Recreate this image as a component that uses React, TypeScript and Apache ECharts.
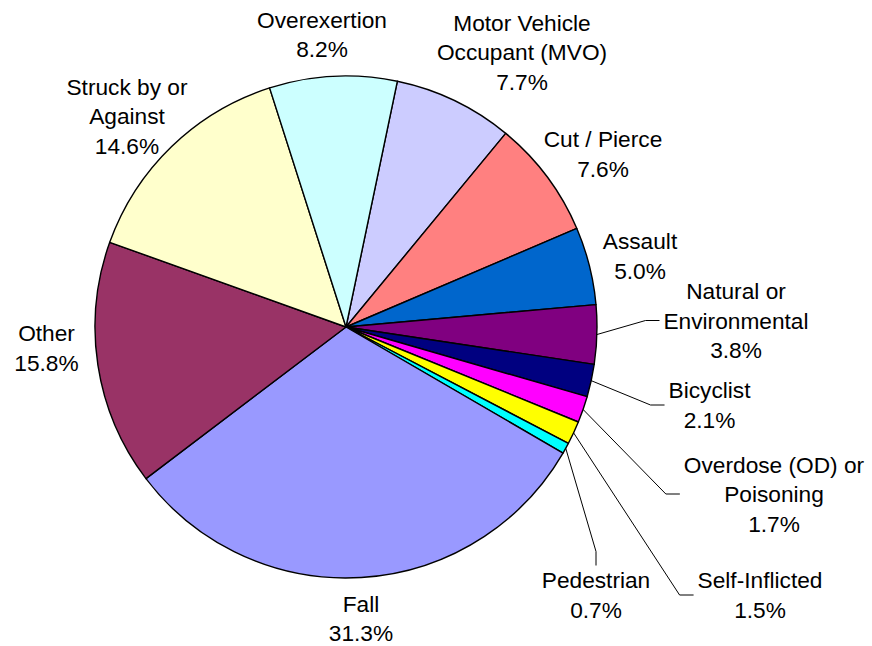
import React, { useEffect, useRef } from 'react';
import * as echarts from 'echarts';

// Injury categories, clockwise starting at the Motor Vehicle Occupant slice
const categories: string[] = [
  'Motor Vehicle\nOccupant (MVO)',
  'Cut / Pierce',
  'Assault',
  'Natural or\nEnvironmental',
  'Bicyclist',
  'Overdose (OD) or\nPoisoning',
  'Self-Inflicted',
  'Pedestrian',
  'Fall',
  'Other',
  'Struck by or\nAgainst',
  'Overexertion',
];

// Share of injuries (%)
const percents: number[] = [7.7, 7.6, 5.0, 3.8, 2.1, 1.7, 1.5, 0.7, 31.3, 15.8, 14.6, 8.2];

// Styles (kept apart from data)
const sliceColors: string[] = [
  '#CCCCFF', '#FF8080', '#0066CC', '#800080', '#000080', '#FF00FF',
  '#FFFF00', '#00FFFF', '#9999FF', '#993366', '#FFFFCC', '#CCFFFF',
];
const showLeader: boolean[] = [false, false, false, true, true, true, true, true, false, false, false, false];
// label block centres (px)
const labelCentres: [number, number][] = [
  [522, 52], [603, 154], [640, 256], [736, 320.5], [709.5, 405], [774, 494],
  [760, 595], [596, 595], [361, 618.5], [46.5, 348], [127, 116], [322, 34.5],
];

export default function App() {
  const ref = useRef<HTMLDivElement>(null);

  useEffect(() => {
    if (!ref.current) return;
    const chart = echarts.init(ref.current, null, { renderer: 'svg' });
    const data = categories.map((name, i) => ({
      name,
      value: percents[i],
      itemStyle: { color: sliceColors[i] },
      labelLine: { show: showLeader[i] },
    }));
    chart.setOption({
      animation: false,
      backgroundColor: '#FFFFFF',
      series: [
        {
          type: 'pie',
          center: [346, 327],
          radius: 251,
          startAngle: 78.2,
          clockwise: true,
          avoidLabelOverlap: false,
          silent: true,
          emphasis: { disabled: true, scale: false },
          itemStyle: { borderColor: '#000000', borderWidth: 1.4 },
          label: {
            show: true,
            position: 'outside',
            color: '#000000',
            fontFamily: '"Liberation Sans", Arial, sans-serif',
            fontSize: 22.7,
            lineHeight: 29.5,
            align: 'center',
            padding: [0, 4],
            formatter: (p: any) => `${p.name}\n${Number(p.value).toFixed(1)}%`,
          },
          labelLine: {
            length: 15,
            length2: 14,
            smooth: false,
            lineStyle: { color: '#000000', width: 1 },
          },
          labelLayout: (params: any) => {
            const c = labelCentres[params.dataIndex];
            return { x: c[0], y: c[1], align: 'center', verticalAlign: 'middle' };
          },
          data,
        },
      ],
    });
    return () => chart.dispose();
  }, []);

  return (
    <div
      ref={ref}
      style={{ position: 'fixed', left: 0, top: 0, width: 872, height: 646, background: '#fff' }}
    />
  );
}
